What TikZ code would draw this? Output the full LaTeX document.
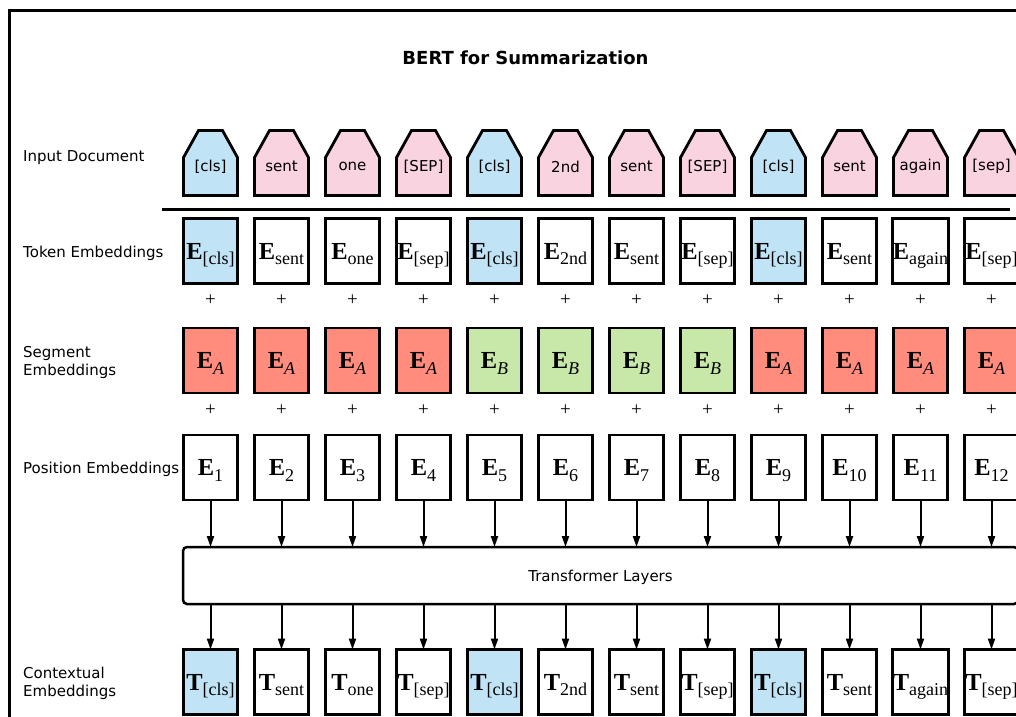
\documentclass[tikz,border=0pt]{standalone}
\usepackage{fontspec}
\setmainfont{DejaVu Sans}
\newfontfamily\tms{Liberation Serif}
\usetikzlibrary{arrows.meta,calc,backgrounds}
\definecolor{cblue}{RGB}{192,227,245}
\definecolor{cpink}{RGB}{249,211,223}
\definecolor{cred}{RGB}{255,140,124}
\definecolor{cgreen}{RGB}{200,232,170}
\newcommand{\emb}[2]{{\tms\fontsize{24.5}{24.5}\selectfont\bfseries #1}\raisebox{-5.5pt}{\tms\fontsize{18}{18}\selectfont #2}}
\tikzset{
  lbl/.style={anchor=west, font=\fontsize{15}{18}\selectfont, align=left, inner sep=0},
  ebox/.style={draw, line width=2.8pt, minimum width=54pt, minimum height=65pt, inner sep=0, outer sep=0, text height=18pt, text depth=2pt},
  inbox/.style={minimum width=54pt, minimum height=65pt, inner sep=0, outer sep=0},
  intxt/.style={font=\fontsize{15}{15}\selectfont, inner sep=0},
  plus/.style={font=\tms\fontsize{19}{19}\selectfont, inner sep=0},
  arr/.style={line width=2pt, -{Triangle[length=11pt,width=7pt]}},
  trbox/.style={draw, line width=2.5pt, rounded corners=4pt, minimum width=835pt, minimum height=57pt, inner sep=0, outer sep=0, text height=11pt, text depth=0pt, font=\fontsize{15}{15}\selectfont}
}
\begin{document}
\begin{tikzpicture}[x=1pt,y=-1pt]
\useasboundingbox (0,0) rectangle (1016,716);
\clip (0,0) rectangle (1016,716);
\draw[line width=2.5pt] (9.5,10.5) rectangle (1040,740);
\node[font=\bfseries\fontsize{18}{18}\selectfont] (title) at (525.5,58) {BERT for Summarization};
\node[lbl] (lin) at (23,158) {Input Document};
\node[lbl] (ltok) at (23,253) {Token Embeddings};
\node[lbl] (lseg) at (23,362) {Segment\\Embeddings};
\node[lbl] (lpos) at (23,469) {Position Embeddings};
\node[lbl] (lctx) at (23,683) {Contextual\\Embeddings};
\coordinate (divl) at (162,209);
\coordinate (divr) at (1010,209);
\draw[line width=3pt] (divl) -- (divr);
\node[trbox] (tr) at (600.5,575.5) {Transformer Layers};
\foreach \i/\tin/\tsub/\cin/\ctok/\cseg/\sseg in {
 1/[cls]/[cls]/cblue/cblue/cred/A,
 2/sent/sent/cpink/white/cred/A,
 3/one/one/cpink/white/cred/A,
 4/[SEP]/[sep]/cpink/white/cred/A,
 5/[cls]/[cls]/cblue/cblue/cgreen/B,
 6/2nd/2nd/cpink/white/cgreen/B,
 7/sent/sent/cpink/white/cgreen/B,
 8/[SEP]/[sep]/cpink/white/cgreen/B,
 9/[cls]/[cls]/cblue/cblue/cred/A,
 10/sent/sent/cpink/white/cred/A,
 11/again/again/cpink/white/cred/A,
 12/[sep]/[sep]/cpink/white/cred/A}{
  \pgfmathsetmacro{\xx}{210.5+71*(\i-1)}
  \node[inbox] (in\i) at (\xx,163) {};
  \begin{pgfonlayer}{background}
    \draw[line width=2.8pt, fill=\cin, line join=miter]
      (in\i.south west) -- ($(in\i.north west)+(0,27)$) -- ($(in\i.north west)+(15,0)$)
      -- ($(in\i.north east)+(-15,0)$) -- ($(in\i.north east)+(0,27)$) -- (in\i.south east) -- cycle;
  \end{pgfonlayer}
  \node[intxt] (int\i) at ($(in\i.center)+(0,3.5)$) {\tin};
  \node[ebox, fill=\ctok] (tok\i) at (\xx,251) {\emb{E}{\tsub}};
  \node[plus] (p1\i) at (\xx,300) {+};
  \node[ebox, fill=\cseg] (seg\i) at (\xx,360.5) {\emb{E}{\textit{\sseg}}};
  \node[plus] (p2\i) at (\xx,410) {+};
  \node[ebox] (pos\i) at (\xx,467.5) {\emb{E}{\i}};
  \node[ebox, fill=\ctok] (ctx\i) at (\xx,682) {\emb{T}{\tsub}};
  \draw[arr] (pos\i.south) -- (pos\i.south |- tr.north);
  \draw[arr] (tr.south -| ctx\i.north) -- (ctx\i.north);
}
\end{tikzpicture}
\end{document}
